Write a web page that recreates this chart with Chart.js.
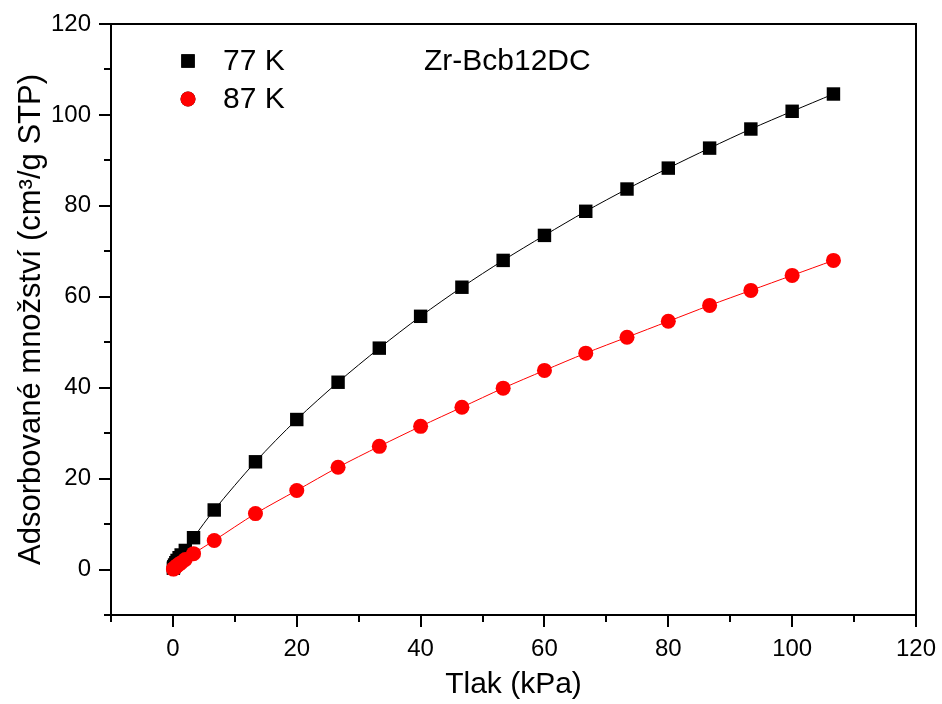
<!DOCTYPE html>
<html lang="cs">
<head>
	<meta charset="utf-8">
	<script src="https://cdn.jsdelivr.net/npm/chart.js@4.4.1/dist/chart.umd.min.js"></script>
	<style>
		html, body { margin:0; padding:0; background:#fff; }
		#wrap { width:942px; height:704px; }
	</style>
</head>
<body>
	<div id="wrap"><canvas id="graf"></canvas></div>
	<script>
	// tlak (kPa) a adsorbovane mnozstvi (cm3/g STP)
	var tlak77 = [0.07, 0.13, 0.27, 0.47, 0.67, 1.0, 1.33, 2.0, 3.33, 6.67, 13.33, 20.0, 26.67, 33.33, 40.0, 46.67, 53.33, 60.0, 66.67, 73.33, 80.0, 86.67, 93.33, 100.0, 106.67];
	var adsorpce77 = [0.3, 0.6, 1.0, 1.5, 2.0, 2.6, 3.2, 4.2, 7.0, 13.1, 23.7, 33.0, 41.2, 48.7, 55.7, 62.1, 68.0, 73.5, 78.8, 83.7, 88.3, 92.7, 96.9, 100.8, 104.6];
	var tlak87 = [0.07, 0.13, 0.27, 0.47, 0.67, 1.0, 1.33, 2.0, 3.33, 6.67, 13.33, 20.0, 26.67, 33.33, 40.0, 46.67, 53.33, 60.0, 66.67, 73.33, 80.0, 86.67, 93.33, 100.0, 106.67];
	var adsorpce87 = [0.1, 0.2, 0.35, 0.6, 0.85, 1.2, 1.5, 2.2, 3.5, 6.4, 12.3, 17.4, 22.5, 27.1, 31.5, 35.7, 39.9, 43.8, 47.6, 51.1, 54.6, 58.1, 61.4, 64.7, 68.0];
	var nazvySerii = ["77 K", "87 K"];
	var nazevVzorku = "Zr-Bcb12DC";
	var popisX = "Tlak (kPa)";
	var popisY = "Adsorbované množství (cm³/g STP)";

	var PISMO = "'Liberation Sans', Arial, sans-serif";

	function body(xs, ys)
	{
		var out = [];
		for (var i = 0; i < xs.length; i++) out.push({ x: xs[i], y: ys[i] });
		return out;
	}

	// ramecek, hlavni a vedlejsi carky, legenda a nazev vzorku
	var doplnky = {
		id: 'doplnky',
		afterDraw: function(chart)
		{
			var ctx = chart.ctx;
			var a = chart.chartArea;
			var sx = chart.scales.x, sy = chart.scales.y;
			ctx.save();
			ctx.strokeStyle = '#000';
			ctx.lineWidth = 2;
			ctx.strokeRect(a.left, a.top, a.right - a.left, a.bottom - a.top);

			ctx.beginPath();
			sx.ticks.forEach(function(t) {
				var px = Math.round(sx.getPixelForValue(t.value));
				var d = (t.value % 20 === 0) ? 12 : 7;
				ctx.moveTo(px, a.bottom);
				ctx.lineTo(px, a.bottom + d);
			});
			sy.ticks.forEach(function(t) {
				var py = Math.round(sy.getPixelForValue(t.value));
				var d = (t.value % 20 === 0) ? 12 : 7;
				ctx.moveTo(a.left, py);
				ctx.lineTo(a.left - d, py);
			});
			ctx.stroke();

			// legenda
			var ds = chart.data.datasets;
			var radky = [61, 99];
			ctx.font = "30px " + PISMO;
			ctx.textBaseline = 'middle';
			ctx.textAlign = 'left';
			for (var i = 0; i < ds.length; i++)
			{
				Chart.helpers.drawPoint(ctx, {
					pointStyle: ds[i].pointStyle,
					radius: ds[i].pointRadius,
					borderWidth: 0,
					rotation: 0
				}, 188, radky[i]);
				ctx.fillStyle = ds[i].pointBackgroundColor;
				ctx.fill();
				ctx.fillStyle = '#000';
				ctx.fillText(ds[i].label, 223, radky[i] + 1);
			}
			ctx.fillText(nazevVzorku, 424, 62);
			ctx.restore();
		}
	};

	var ctx = document.getElementById('graf').getContext('2d');
	var graf = new Chart(ctx, {
		type: 'line',
		data: {
			datasets: [
				{
					label: nazvySerii[0],
					data: body(tlak77, adsorpce77),
					borderColor: '#000',
					borderWidth: 1,
					pointStyle: 'rect',
					pointRadius: 9.5,
					pointBackgroundColor: '#000',
					pointBorderWidth: 0,
					tension: 0.3,
					order: 1
				},
				{
					label: nazvySerii[1],
					data: body(tlak87, adsorpce87),
					borderColor: '#ff0000',
					borderWidth: 1,
					pointStyle: 'circle',
					pointRadius: 7.5,
					pointBackgroundColor: '#ff0000',
					pointBorderWidth: 0,
					tension: 0.3,
					order: 0
				}
			]
		},
		options: {
			responsive: true,
			maintainAspectRatio: false,
			animation: false,
			layout: { padding: { top: 24, right: 26, left: 0, bottom: 0 } },
			plugins: { legend: { display: false }, tooltip: { enabled: false } },
			scales: {
				x: {
					type: 'linear',
					min: -10, max: 120,
					afterFit: function(s) { s.height = 89; s.paddingLeft = 0; s.paddingRight = 0; },
					border: { display: true, color: '#000', width: 2 },
					grid: { drawOnChartArea: false, drawTicks: false },
					ticks: {
						stepSize: 10, autoSkip: false, maxRotation: 0,
						color: '#000', padding: 20,
						font: { size: 24, family: PISMO },
						callback: function(v) { return (v % 20 === 0) ? v : ''; }
					},
					title: { display: true, text: popisX, color: '#000', padding: { top: 0, bottom: 1 }, font: { size: 30, family: PISMO } }
				},
				y: {
					type: 'linear',
					min: -10, max: 120,
					afterFit: function(s) { s.width = 111; s.paddingTop = 0; s.paddingBottom = 0; },
					border: { display: true, color: '#000', width: 2 },
					grid: { drawOnChartArea: false, drawTicks: false },
					ticks: {
						stepSize: 10, autoSkip: false,
						color: '#000', padding: 20,
						font: { size: 24, family: PISMO },
						callback: function(v) { return (v % 20 === 0) ? v : ''; }
					},
					title: { display: true, text: popisY, color: '#000', padding: { top: 13, bottom: 0 }, font: { size: 31, family: PISMO } }
				}
			}
		},
		plugins: [doplnky]
	});
	</script>
</body>
</html>
